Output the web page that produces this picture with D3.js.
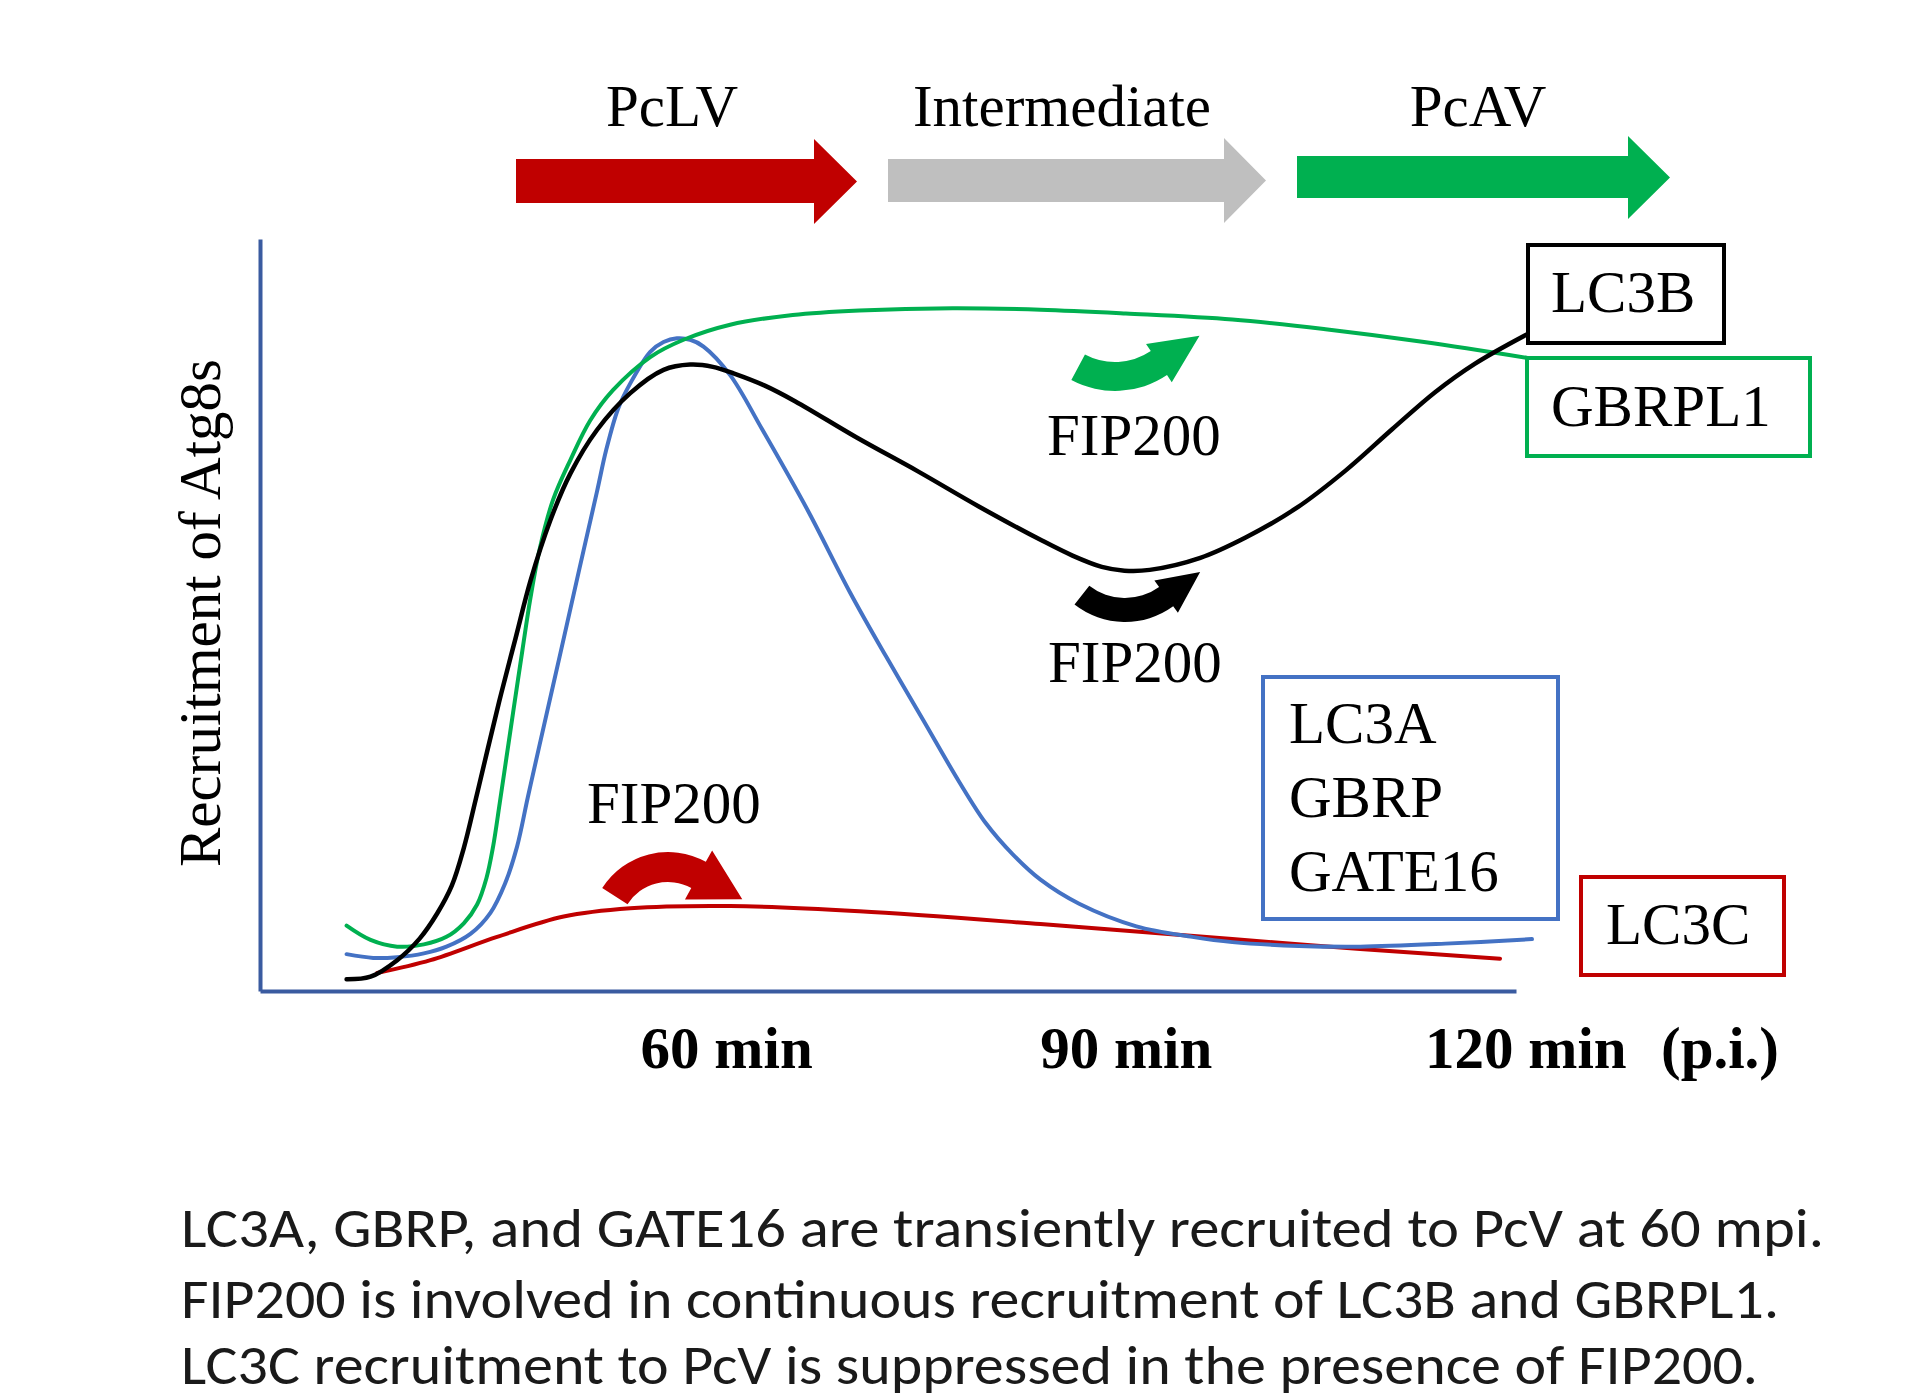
<!DOCTYPE html>
<html>
<head>
<meta charset="utf-8">
<script src="https://cdn.jsdelivr.net/npm/d3@7"></script>
<style>
  html, body { margin: 0; padding: 0; background: #ffffff; }
  svg { display: block; }
</style>
</head>
<body>
<svg id="chart" width="1920" height="1398"></svg>
<script>
// ---------------- DATA ----------------
// time (min p.i.), relative recruitment (0-100)
const lc3b   = [[31.5,1.55],[33.3,1.9],[35.3,4.1],[37.0,7.0],[38.3,10.3],[39.4,14.0],[40.3,19.0],[41.2,25.5],[42.1,32.2],[43.1,39.5],[44.2,47.0],[45.3,54.5],[46.8,62.6],[48.3,68.8],[50.3,74.6],[52.8,79.5],[55.3,82.6],[57.3,83.3],[59.0,83.0],[60.6,82.1],[62.9,80.5],[65.2,78.4],[69.8,73.6],[74.4,69.1],[79.0,64.4],[83.6,60.0],[86.0,57.9],[88.2,56.4],[89.9,55.9],[91.8,56.0],[95.6,57.6],[99.0,60.3],[102.8,64.2],[106.5,69.2],[110.0,74.7],[113.2,79.6],[116.2,83.4],[120.1,87.3]];
const gbrpl1 = [[31.5,8.7],[33.3,6.8],[35.3,5.9],[37.3,6.2],[39.0,7.2],[40.3,9.0],[41.3,11.5],[42.0,15.0],[42.5,19.2],[43.0,25.0],[43.5,31.0],[44.0,37.0],[44.7,45.3],[45.3,52.2],[46.0,58.8],[47.0,65.3],[48.3,70.6],[49.8,75.9],[51.5,79.9],[54.3,84.3],[56.8,86.6],[60.3,88.6],[65.0,89.9],[70.0,90.5],[77.0,90.8],[83.6,90.6],[90.0,90.1],[98.0,89.3],[105.0,88.0],[112.4,86.3],[120.1,84.2]];
const lc3a   = [[31.5,4.9],[33.5,4.4],[35.3,4.5],[37.3,5.0],[39.0,5.9],[40.8,7.6],[42.3,10.4],[43.4,14.3],[44.3,19.2],[45.1,25.7],[46.0,32.8],[47.5,44.5],[49.0,56.3],[50.3,66.4],[51.0,72.0],[51.9,77.5],[52.8,80.8],[54.3,85.0],[55.3,86.3],[56.3,86.8],[57.3,86.6],[58.3,85.7],[60.3,81.9],[62.7,74.7],[66.1,64.0],[69.3,53.0],[72.0,44.5],[74.8,36.0],[77.5,27.8],[79.5,22.3],[81.5,18.2],[83.6,14.8],[86.5,11.6],[90.8,8.6],[95.0,7.2],[98.0,6.5],[103.0,6.0],[107.6,5.9],[114.0,6.3],[120.5,6.9]];
const lc3c   = [[33.8,2.4],[37.8,4.1],[42.8,7.2],[47.8,9.9],[52.8,11.0],[60.3,11.3],[70.0,10.6],[83.6,8.9],[98.0,6.9],[107.6,5.6],[118.1,4.3]];

const tickValues = [60, 90, 120];
const tickLabels = ["60 min", "90 min", "120 min"];
const phaseNames = ["PcLV", "Intermediate", "PcAV"];
const captionLines = [
  "LC3A, GBRP, and GATE16 are transiently recruited to PcV at 60 mpi.",
  "FIP200 is involved in continuous recruitment of LC3B and GBRPL1.",
  "LC3C recruitment to PcV is suppressed in the presence of FIP200."
];

// ---------------- LAYOUT ----------------
const SERIF = "'Liberation Serif','Times New Roman',Times,serif";
const SANS = "Carlito, Calibri, Lato, 'Open Sans', sans-serif";
const FS = 59;
const svg = d3.select("#chart");
svg.append("rect").attr("width",1920).attr("height",1398).attr("fill","#fff");

const x = d3.scaleLinear().domain([25, 119.3]).range([260, 1516]);
const y = d3.scaleLinear().domain([0, 100]).range([991, 239]);
const AXIS_COLOR = "#3A5BA0";

// series lines
const line = d3.line().x(d => x(d[0])).y(d => y(d[1])).curve(d3.curveCatmullRom.alpha(0.5));
const series = [
  {data: lc3c,   color: "#C00000", w: 4},
  {data: lc3a,   color: "#4472C4", w: 4},
  {data: gbrpl1, color: "#00B050", w: 4},
  {data: lc3b,   color: "#000000", w: 4.5}
];
series.forEach(s => {
  svg.append("path").attr("d", line(s.data)).attr("fill","none")
    .attr("stroke", s.color).attr("stroke-width", s.w).attr("stroke-linecap","round").attr("stroke-linejoin","round");
});

// axes
const xAxis = d3.axisBottom(x).tickValues(tickValues).tickFormat((d,i) => tickLabels[i]).tickSize(0).tickSizeOuter(0);
const gx = svg.append("g").attr("transform", "translate(0,991)").call(xAxis);
gx.select(".domain").attr("stroke", AXIS_COLOR).attr("stroke-width", 4);
gx.selectAll("text").attr("y", 77).attr("dy", 0)
  .attr("font-family", SERIF).attr("font-size", FS).attr("font-weight", "bold").attr("fill", "#000");
svg.append("text").attr("x", 1720).attr("y", 1068).attr("text-anchor","middle")
  .attr("font-family", SERIF).attr("font-size", FS).attr("font-weight","bold").text("(p.i.)");

const yAxis = d3.axisLeft(y).tickValues([]).tickSize(0).tickSizeOuter(0);
const gy = svg.append("g").attr("transform", "translate(260,0)").call(yAxis);
gy.select(".domain").attr("stroke", AXIS_COLOR).attr("stroke-width", 4);

svg.append("text").attr("transform", "translate(220,613) rotate(-90)")
  .attr("text-anchor","middle").attr("font-family", SERIF).attr("font-size", FS)
  .text("Recruitment of Atg8s");

// phase block arrows
const phaseArrows = [
  {x0:516, xb:814, xt:857, bt:159, bb:203, ht:139, hb:224, color:"#C00000", cx:672},
  {x0:888, xb:1224, xt:1266, bt:159, bb:202, ht:138, hb:223, color:"#BFBFBF", cx:1062},
  {x0:1297, xb:1628, xt:1670, bt:156, bb:198, ht:136, hb:219, color:"#00B050", cx:1478}
];
phaseArrows.forEach((a, i) => {
  const mid = (a.ht + a.hb) / 2;
  svg.append("path").attr("fill", a.color)
    .attr("d", `M${a.x0},${a.bt} L${a.xb},${a.bt} L${a.xb},${a.ht} L${a.xt},${mid} L${a.xb},${a.hb} L${a.xb},${a.bb} L${a.x0},${a.bb} Z`);
  svg.append("text").attr("x", a.cx).attr("y", 126).attr("text-anchor","middle")
    .attr("font-family", SERIF).attr("font-size", FS).text(phaseNames[i]);
});

// curved FIP200 arrows
function curvedArrow(cx, cy, rIn, rOut, a0d, a1d, headW, headL) {
  const a0 = a0d * Math.PI / 180, a1 = a1d * Math.PI / 180;
  const pt = (r, a) => [cx + r * Math.cos(a), cy + r * Math.sin(a)];
  const rm = (rIn + rOut) / 2;
  const dir = a1 > a0 ? 1 : -1;
  const sweep = dir > 0 ? 1 : 0;
  const tx = dir * (-Math.sin(a1)), ty = dir * Math.cos(a1);
  const m = pt(rm, a1);
  const tip = [m[0] + headL * tx, m[1] + headL * ty];
  const o0 = pt(rOut, a0), o1 = pt(rOut, a1), i0 = pt(rIn, a0), i1 = pt(rIn, a1);
  const h1 = pt(rm + headW / 2, a1), h2 = pt(rm - headW / 2, a1);
  return `M${o0} A${rOut},${rOut} 0 0 ${sweep} ${o1} L${h1} L${tip} L${h2} L${i1} A${rIn},${rIn} 0 0 ${1 - sweep} ${i0} Z`;
}
const fipArrows = [
  {cx:668, cy:930, rIn:48, rOut:78, a0:-147.5, a1:-61, hw:56, hl:50, color:"#C00000"},
  {cx:1115, cy:298, rIn:64, rOut:93, a0:118, a1:56, hw:46, hl:49, color:"#00B050"},
  {cx:1125, cy:540, rIn:58, rOut:82, a0:128, a1:54, hw:40, hl:42, color:"#000000"}
];
fipArrows.forEach(a => {
  svg.append("path").attr("fill", a.color).attr("d", curvedArrow(a.cx, a.cy, a.rIn, a.rOut, a.a0, a.a1, a.hw, a.hl));
});
const fipLabels = [{x:587, y:823}, {x:1047, y:455}, {x:1048, y:682}];
fipLabels.forEach(l => {
  svg.append("text").attr("x", l.x).attr("y", l.y).attr("font-family", SERIF).attr("font-size", FS).text("FIP200");
});

// label boxes
const boxes = [
  {x0:1528, y0:245, x1:1724, y1:343, color:"#000000", lines:["LC3B"], tx:1551, ty:[312]},
  {x0:1527, y0:358, x1:1810, y1:456, color:"#00B050", lines:["GBRPL1"], tx:1551, ty:[426]},
  {x0:1263, y0:677, x1:1558, y1:919, color:"#4472C4", lines:["LC3A","GBRP","GATE16"], tx:1289, ty:[743,817,891]},
  {x0:1581, y0:877, x1:1784, y1:975, color:"#C00000", lines:["LC3C"], tx:1606, ty:[944]}
];
boxes.forEach(b => {
  svg.append("rect").attr("x", b.x0).attr("y", b.y0).attr("width", b.x1 - b.x0).attr("height", b.y1 - b.y0)
    .attr("fill","none").attr("stroke", b.color).attr("stroke-width", 4);
  b.lines.forEach((t, i) => {
    svg.append("text").attr("x", b.tx).attr("y", b.ty[i]).attr("font-family", SERIF).attr("font-size", FS).text(t);
  });
});

// caption
const capY = [1247, 1318, 1384];
const capW = [1643, 1598, 1577];
captionLines.forEach((t, i) => {
  svg.append("text").attr("x", 181).attr("y", capY[i]).attr("font-family", SANS).attr("font-size", 55)
    .attr("fill", "#1a1a1a").attr("textLength", capW[i]).attr("lengthAdjust", "spacingAndGlyphs").text(t);
});
</script>
</body>
</html>
